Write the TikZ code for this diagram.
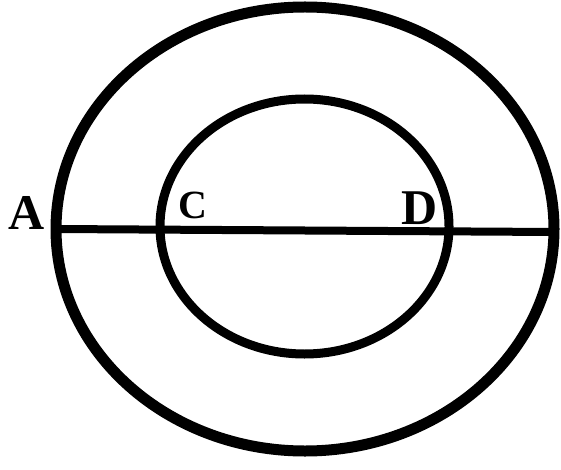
\documentclass[tikz,border=0pt]{standalone}
\usepackage{fontspec}
\setmainfont{Liberation Serif}
\begin{document}
\begin{tikzpicture}[x=1pt,y=-1pt,
  ring/.style={draw=black,line width=#1},
  lbl/.style={font=\fontsize{50}{50}\selectfont\bfseries,inner sep=0pt,text=black}]
\useasboundingbox (0,0) rectangle (561,470);
\fill[white] (0,0) rectangle (561,470);
\coordinate (O) at (305,229);
\coordinate (I) at (304.5,226.5);
\draw[ring=11pt] (O) ellipse [x radius=249, y radius=222];
\draw[ring=9pt] (I) ellipse [x radius=144.5, y radius=127.5];
\coordinate (L) at (56,229);
\coordinate (R) at (554,232);
\draw[line width=8pt] (L) -- (R);
\node[lbl] (A) at (27,213) {A};
\node[lbl,font=\fontsize{40}{40}\selectfont\bfseries] (C) at (193,205) {C};
\node[lbl] (D) at (420,208) {D};
\end{tikzpicture}
\end{document}
